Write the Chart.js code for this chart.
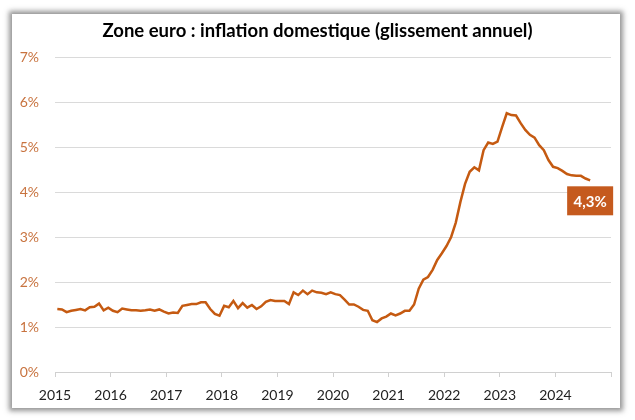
<!DOCTYPE html>
<html><head><meta charset="utf-8">
<script src="https://cdn.jsdelivr.net/npm/chart.js@4/dist/chart.umd.min.js"></script>
<style>
html,body{margin:0;padding:0;background:#fff;}
#wrap{position:relative;width:635px;height:420px;}
#card{position:absolute;left:12px;top:14px;width:608px;height:394px;background:#fff;box-shadow:0 0 5px 3px rgba(60,60,60,0.55);}
#c{position:absolute;left:0;top:0;}
</style></head>
<body>
<div id="wrap"><div id="card"></div><canvas id="c" width="635" height="420"></canvas></div>
<script>
const TITLE = 'Zone euro : inflation domestique (glissement annuel)';
const years = ['2015','2016','2017','2018','2019','2020','2021','2022','2023','2024'];
const yTicks = [0,1,2,3,4,5,6,7];
// Monthly values, Jan 2015 .. Aug 2024 (%)
const v2015 = [1.40,1.39,1.33,1.36,1.38,1.40,1.37,1.44,1.45,1.52,1.37,1.43];
const v2016 = [1.36,1.33,1.41,1.39,1.37,1.37,1.36,1.37,1.39,1.36,1.39,1.34];
const v2017 = [1.30,1.32,1.31,1.47,1.49,1.51,1.51,1.55,1.55,1.40,1.29,1.25];
const v2018 = [1.47,1.44,1.58,1.42,1.53,1.43,1.49,1.40,1.46,1.56,1.60,1.58];
const v2019 = [1.58,1.58,1.51,1.77,1.71,1.81,1.73,1.81,1.77,1.76,1.73,1.77];
const v2020 = [1.73,1.71,1.61,1.50,1.50,1.45,1.38,1.36,1.15,1.11,1.19,1.23];
const v2021 = [1.30,1.26,1.30,1.36,1.36,1.50,1.85,2.05,2.11,2.27,2.49,2.64];
const v2022 = [2.80,3.00,3.32,3.78,4.18,4.45,4.55,4.48,4.93,5.10,5.07,5.12];
const v2023 = [5.44,5.75,5.71,5.70,5.53,5.38,5.27,5.21,5.04,4.93,4.71,4.56];
const v2024 = [4.53,4.47,4.40,4.37,4.36,4.36,4.30,4.26];
const series = [].concat(v2015,v2016,v2017,v2018,v2019,v2020,v2021,v2022,v2023,v2024);
const LINE = '#C55A11';

const titlePlugin = {
  id:'cardTitle',
  afterDraw(chart){
    const ctx = chart.ctx;
    ctx.save();
    ctx.font = 'bold 18.5px Lato';
    ctx.fillStyle = '#000';
    ctx.textAlign = 'center';
    ctx.textBaseline = 'middle';
    ctx.fillText(TITLE, 317.5, 31);
    ctx.restore();
  }
};

const lastLabel = {
  id:'lastLabel',
  afterDatasetsDraw(chart){
    const meta = chart.getDatasetMeta(0);
    const pt = meta.data[meta.data.length-1];
    const val = series[series.length-1];
    const txt = val.toFixed(1).replace('.',',') + '%';
    const ctx = chart.ctx;
    ctx.save();
    ctx.font = 'bold 15px Lato';
    const w = 46, h = 29;
    const x = pt.x - w/2, y = pt.y + 6;
    ctx.fillStyle = '#C55A1E';
    ctx.fillRect(x, y, w, h);
    ctx.fillStyle = '#fff';
    ctx.textAlign = 'center';
    ctx.textBaseline = 'middle';
    ctx.fillText(txt, pt.x, y + h/2 + 1);
    ctx.restore();
  }
};

new Chart(document.getElementById('c'), {
  type:'line',
  data:{
    datasets:[{
      data: series.map((v,i)=>({x:i+0.5,y:v})),
      borderColor: LINE,
      borderWidth: 2.5,
      pointRadius: 0,
      tension: 0,
      fill:false
    }]
  },
  options:{
    responsive:false,
    animation:false,
    layout:{padding:{left:0,right:24,top:57,bottom:0}},
    plugins:{
      legend:{display:false},
      tooltip:{enabled:false},
      title:{display:false}
    },
    scales:{
      x:{
        type:'linear',min:0,max:120,
        afterBuildTicks(s){ s.ticks = years.map((y,i)=>({value:i*12})).concat([{value:120}]); },
        ticks:{callback:(v)=>{const k=Math.round(v/12);return years[k]||'';},color:'#222',font:{family:'Lato',size:14},padding:10,maxRotation:0,autoSkip:false},
        grid:{drawOnChartArea:false,drawTicks:true,tickLength:5,color:'#D0D0D0'},
        border:{display:true,color:'#D0D0D0',width:1},
        afterFit(s){ s.height = 48; }
      },
      y:{
        min:0,max:7,
        afterBuildTicks(s){ s.ticks = yTicks.map(v=>({value:v})); },
        ticks:{callback:(v)=>v+'%',color:'#C8733F',font:{family:'Lato',size:14},padding:16},
        grid:{color:'#DADADA',drawTicks:false,lineWidth:1},
        border:{display:false},
        afterFit(s){ s.width = 55; }
      }
    }
  },
  plugins:[lastLabel, titlePlugin]
});
</script>
</body></html>
